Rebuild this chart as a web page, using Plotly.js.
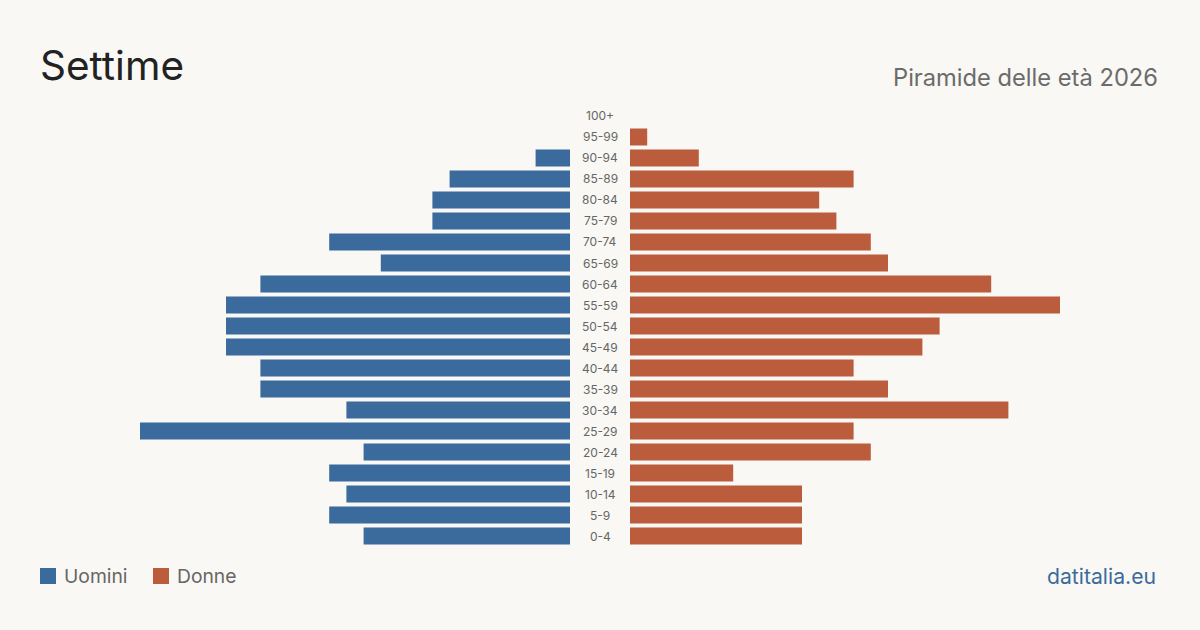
<!DOCTYPE html>
<html>
<head>
<meta charset="utf-8">
<script src="https://cdn.plot.ly/plotly-3.0.1.min.js"></script>
<style>
  html, body { margin: 0; padding: 0; background: #f9f8f4; }
  #chart { width: 1200px; height: 630px; }
</style>
</head>
<body>
<div id="chart"></div>
<script>
// Age classes, bottom to top
const ageGroups = ["0-4","5-9","10-14","15-19","20-24","25-29","30-34","35-39","40-44","45-49",
                   "50-54","55-59","60-64","65-69","70-74","75-79","80-84","85-89","90-94","95-99","100+"];
// Residents by age class
const men   = [12,14,13,14,12,25,13,18,18,20,20,20,18,11,14,8,8,7,2,0,0];
const women = [10,10,10,6,14,13,22,15,13,17,18,25,21,15,14,12,11,13,4,1,0];

const blue = "#3b6b9c";
const red  = "#bb5c3c";
const bg   = "#f9f8f4";
const font = "Inter, 'Noto Sans', sans-serif";

// px per person: 17.2 ; each half spans 570 px of width
const halfRange = 570 / 17.2;

const traces = [
  { type: "bar", orientation: "h", y: ageGroups, x: men, name: "Uomini",
    marker: { color: blue }, xaxis: "x", yaxis: "y", hoverinfo: "x+y" },
  { type: "bar", orientation: "h", y: ageGroups, x: women, name: "Donne",
    marker: { color: red }, xaxis: "x2", yaxis: "y", hoverinfo: "x+y" }
];

const annotations = ageGroups.map(g => ({
  xref: "paper", yref: "y", x: 0.5, y: g, text: g, showarrow: false,
  xanchor: "center", yanchor: "middle",
  font: { family: font, size: 12, color: "#666" }
}));

annotations.push(
  { xref: "paper", yref: "paper", x: 38/1200, y: 1 - 66/630, text: "Settime", showarrow: false,
    xanchor: "left", yanchor: "middle", font: { family: font, size: 40.5, color: "#222" } },
  { xref: "paper", yref: "paper", x: 1160/1200, y: 1 - 77/630, text: "Piramide delle età 2026", showarrow: false,
    xanchor: "right", yanchor: "middle", font: { family: font, size: 23.7, color: "#6b6b6b" } },
  { xref: "paper", yref: "paper", x: 62/1200, y: 1 - 576/630, text: "Uomini", showarrow: false,
    xanchor: "left", yanchor: "middle", font: { family: font, size: 19.3, color: "#666" } },
  { xref: "paper", yref: "paper", x: 175/1200, y: 1 - 576/630, text: "Donne", showarrow: false,
    xanchor: "left", yanchor: "middle", font: { family: font, size: 19.3, color: "#666" } },
  { xref: "paper", yref: "paper", x: 1158/1200, y: 1 - 576/630, text: "datitalia.eu", showarrow: false,
    xanchor: "right", yanchor: "middle", font: { family: font, size: 21.2, color: "#3b6b9c" } }
);

const shapes = [
  { type: "rect", xref: "paper", yref: "paper", x0: 40/1200, x1: 56/1200, y0: 1 - 584/630, y1: 1 - 568/630,
    fillcolor: blue, line: { width: 0 } },
  { type: "rect", xref: "paper", yref: "paper", x0: 153/1200, x1: 169/1200, y0: 1 - 584/630, y1: 1 - 568/630,
    fillcolor: red, line: { width: 0 } }
];

const layout = {
  width: 1200, height: 630,
  margin: { l: 0, r: 0, t: 0, b: 0 },
  paper_bgcolor: bg, plot_bgcolor: bg,
  showlegend: false,
  bargap: 0.19,
  xaxis:  { domain: [0, 570/1200], range: [halfRange, 0], visible: false, fixedrange: true },
  xaxis2: { domain: [630/1200, 1], range: [0, halfRange], visible: false, fixedrange: true },
  yaxis:  { domain: [83.5/630, 524.5/630], type: "category", categoryorder: "array",
            categoryarray: ageGroups, range: [-0.5, 20.5], visible: false, fixedrange: true },
  annotations, shapes
};

Plotly.newPlot("chart", traces, layout, { displayModeBar: false, staticPlot: true });
</script>
</body>
</html>
